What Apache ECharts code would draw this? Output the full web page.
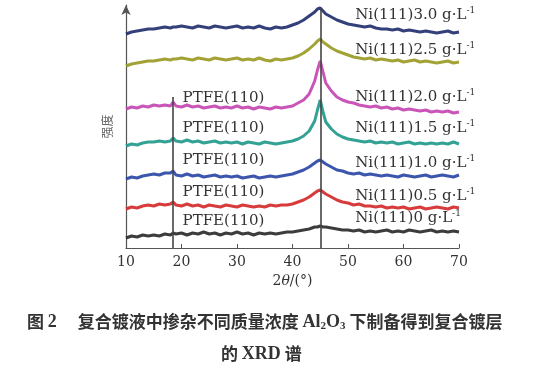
<!DOCTYPE html>
<html><head><meta charset="utf-8">
<script src="https://cdn.jsdelivr.net/npm/echarts@6/dist/echarts.min.js"></script>
<style>html,body{margin:0;padding:0;background:#fff}#c{width:560px;height:380px}</style>
</head><body><div id="c"></div>
<script>
// 2θ positions (degrees)
const twoTheta = [10,11,12,13,14,15,16,17,18,18.5,19,20,21,22,23,24,25,26,27,28,29,30,31,32,33,34,35,36,37,38,39,40,41,42,43,44,44.5,45,45.5,46,47,48,49,50,51,52,53,54,55,56,57,58,59,60,61,62,63,64,65,66,67,68,69,70];
const xTicks = [10,20,30,40,50,60,70];
const niPeak = 45;
const ptfePeak = 18.5;
// stacked intensities (a.u., offset per sample)
const c0 = [10,12,11,13,12,13,12,14,13,15, 14,15,13,15,14,16,14,15,13,15, 14,16,14,15,13,15,14,15,14,15, 16,16,17,18,19,21,21,22,21,21, 20,19,18,18,17,18,16,17,16,17, 18,16,17,16,18,17,16,17,18,16, 17,16,17,16];
const c05 = [39,41,40,42,43,42,44,43,44,46, 43,42,44,42,43,41,43,42,41,43, 42,41,43,42,41,42,41,43,42,43, 43,44,46,48,51,55,57,58,56,54, 51,48,46,45,43,44,42,42,41,42, 40,41,40,41,39,40,41,39,40,41, 40,39,41,40];
const c10 = [69,71,70,72,73,74,73,75,75,77, 73,72,74,72,73,71,72,73,71,72, 71,72,70,71,72,70,71,72,71,72, 73,74,76,78,81,85,87,88,86,84, 81,78,77,75,74,75,73,74,73,72, 73,72,71,73,72,71,72,73,71,72, 73,72,71,73];
const c15 = [102,104,103,105,106,106,107,106,107,110, 107,106,108,106,107,105,106,107,105,106, 105,106,104,106,105,104,106,105,104,105, 106,107,109,112,117,127,138,148,136,126, 119,114,111,109,108,107,106,107,105,106, 105,106,104,105,106,104,105,104,105,104, 105,104,106,104];
const c20 = [139,141,140,142,141,143,142,143,142,146, 142,141,143,141,142,140,141,142,140,141, 140,142,140,141,139,141,140,139,141,140, 141,142,145,148,154,167,178,187,176,165, 157,151,148,146,145,143,142,141,142,140, 141,139,140,138,139,138,137,138,136,137, 136,137,135,136];
const c25 = [182,184,185,186,187,187,188,189,188,189, 189,190,189,188,190,189,188,190,189,188, 189,190,188,189,188,190,188,187,189,188, 189,190,192,195,199,204,207,209,206,204, 200,197,195,193,191,190,189,190,188,189, 188,187,188,186,187,188,186,187,186,185, 186,187,185,186];
const c30 = [214,216,217,218,219,219,220,221,220,221, 221,222,221,220,222,221,220,222,221,220, 221,222,220,221,220,222,220,219,221,220, 221,223,225,228,232,236,239,240,237,234, 231,228,226,224,223,222,221,222,220,219, 219,218,219,217,218,217,216,217,216,215, 216,217,215,216];
const concLabels = ['0','0.5','1.0','1.5','2.0','2.5','3.0'];
const niLabelY = [30,52,85,120,151,198,233];
const ptfeLabelY = [27,56,88,120,150];
const niLabelX = 51.3;
const ptfeLabelX = 20.2;

const seriesData = [c0,c05,c10,c15,c20,c25,c30];
const colors = ['#2b2b2b','#d42a2a','#2b47a6','#22998a','#c447b2','#9a9a26','#22306e'];
const serif = 'DejaVu Serif';

const chart = echarts.init(document.getElementById('c'), null, {renderer:'canvas'});
const series = seriesData.map((d,i)=>{
  const mpData = [{
    coord:[niLabelX, niLabelY[i]],
    label:{formatter:'{a|Ni(111)'+concLabels[i]+' g·L}{s|-1}'}
  }];
  if (i < ptfeLabelY.length) mpData.push({coord:[ptfeLabelX, ptfeLabelY[i]], label:{formatter:'{a|PTFE(110)}'}});
  return {
    type:'line', data: twoTheta.map((x,j)=>[x,d[j]]), showSymbol:false, symbol:'none',
    lineStyle:{color:colors[i], width:3, opacity:0.92}, itemStyle:{color:colors[i]}, z:2,
    markPoint:{symbol:'circle', symbolSize:0, data:mpData,
      label:{show:true, position:'right', distance:0, color:'#333',
        rich:{a:{fontFamily:serif, fontSize:15, color:'#333', lineHeight:18},
              s:{fontFamily:serif, fontSize:9, color:'#333', verticalAlign:'top', lineHeight:18, padding:[0,0,10,0]}}}}
  };
});
series.push({
  type:'line', data:[], markLine:{symbol:'none', silent:true, label:{show:false},
    lineStyle:{color:'#444', width:1.6, type:'solid'},
    data:[
      [{coord:[niPeak,0]},{coord:[niPeak,240]}],
      [{coord:[ptfePeak,0]},{coord:[ptfePeak,151]}]
    ]}
});

const capCJK = {fontFamily:'Noto Sans CJK SC', fontWeight:'bold', fontSize:17, color:'#333'};
const capLat = {fontFamily:'Liberation Serif', fontWeight:'bold', fontSize:18, color:'#333'};
chart.setOption({
  animation:false,
  backgroundColor:'#fff',
  grid:{left:126, right:101, top:5, bottom:132},
  xAxis:{type:'value', min:10, max:70, interval:10,
    axisLine:{lineStyle:{color:'#555', width:1.2}},
    axisTick:{inside:true, length:4, lineStyle:{color:'#555'}},
    axisLabel:{fontFamily:serif, fontSize:14, color:'#333', margin:7},
    splitLine:{show:false},
    name:'{n|2}{i|θ}{n|/(°)}', nameLocation:'middle', nameGap:25,
    nameTextStyle:{rich:{n:{fontFamily:serif, fontSize:14, color:'#333'}, i:{fontFamily:serif, fontSize:14, fontStyle:'italic', color:'#333'}}}
  },
  yAxis:{type:'value', min:0, max:243,
    axisLine:{show:true, lineStyle:{color:'#555', width:1.2}, symbol:['none','arrow'], symbolSize:[7,10]},
    axisTick:{show:false}, axisLabel:{show:false}, splitLine:{show:false},
    name:'强度', nameLocation:'middle', nameGap:13, nameRotate:90,
    nameTextStyle:{fontFamily:'Noto Sans CJK SC', fontSize:12, color:'#666'}
  },
  title:[
    {left:22, top:307, text:'{b|图 }{l|2}{b|　 复合镀液中掺杂不同质量浓度 }{l|Al}{sb|2}{l|O}{sb|3}{b| 下制备得到复合镀层}',
      textStyle:{rich:{
        b:capCJK, l:capLat,
        sb:{fontFamily:'Liberation Serif', fontWeight:'bold', fontSize:11, color:'#333', padding:[9,0,0,0]}}}},
    {left:216, top:340, text:'{b|的 }{l|XRD}{b| 谱}',
      textStyle:{rich:{b:capCJK, l:capLat}}}
  ],
  series:series
});
</script></body></html>
